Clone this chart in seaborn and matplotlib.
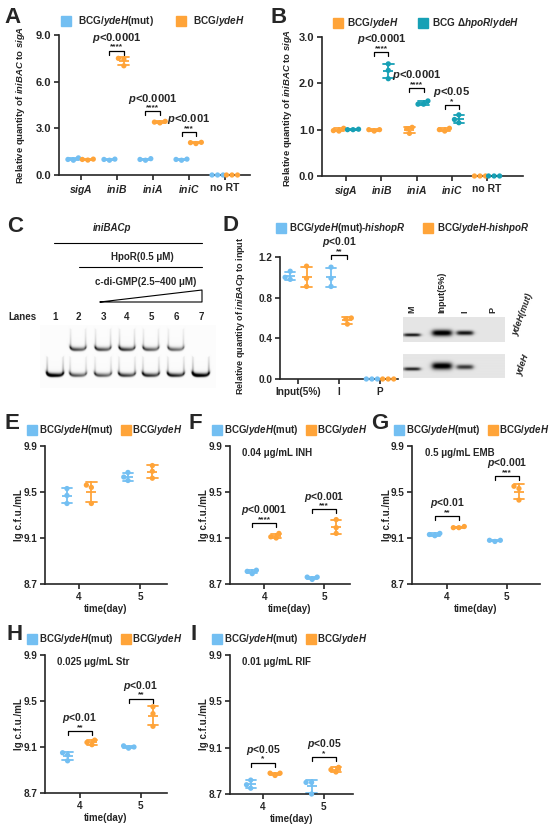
import numpy as np
import pandas as pd
import matplotlib
matplotlib.use('Agg')
import matplotlib.pyplot as plt
import seaborn as sns
from matplotlib.lines import Line2D

W, H = 550, 824
BLUE = '#73BFF2'
ORANGE = '#FFA439'
TEAL = '#17A0B5'

# ---------------- data ----------------
genes = ['sigA', 'iniB', 'iniA', 'iniC', 'no RT']
a_mut = [[0.95, 1.00, 1.10], [0.95, 1.00, 1.02], [0.95, 1.05, 1.00], [0.95, 1.00, 1.02], [0.0, 0.0, 0.0]]
a_ydeh = [[1.00, 1.02, 0.96], [7.50, 7.02, 7.45], [3.35, 3.40, 3.45], [2.02, 2.10, 2.08], [0.0, 0.0, 0.0]]
a_sig = [(1, 8.0, '****', '<0.0001'), (2, 4.1, '****', '<0.0001'), (3, 2.75, '***', '<0.001')]

b_ydeh = [[0.98, 1.03, 0.97], [1.00, 0.97, 1.00], [1.05, 0.92, 1.02], [0.97, 1.03, 1.00], [0.0, 0.0, 0.0]]
b_hpor = [[1.00, 1.00, 1.01], [2.42, 2.28, 2.10], [1.62, 1.55, 1.55], [1.15, 1.32, 1.22], [0.0, 0.0, 0.0]]
b_sig = [(1, 2.68, '****', '<0.0001'), (2, 1.9, '****', '<0.0001'), (3, 1.53, '*', '<0.05')]

chip_cats = ['Input(5%)', 'I', 'P']
d_mut = [[0.98, 1.06, 1.00], [1.10, 0.99, 0.91], [0.0, 0.0, 0.0]]
d_ydeh = [[1.11, 0.99, 0.91], [0.60, 0.59, 0.54], [0.0, 0.0, 0.0]]
d_sig = [(1, 1.22, '**', '<0.01')]

days = ['4', '5']
e_mut = [[9.53, 9.47, 9.40], [9.67, 9.60, 9.63]]
e_ydeh = [[9.56, 9.54, 9.40], [9.73, 9.68, 9.62]]
f_mut = [[8.79, 8.82, 8.81], [8.74, 8.76, 8.76]]
f_ydeh = [[9.14, 9.11, 9.10], [9.26, 9.19, 9.14]]
f_sig = [(0, 9.23, '****', '<0.0001'), (1, 9.35, '***', '<0.001')]
g_mut = [[9.12, 9.14, 9.13], [9.07, 9.08, 9.08]]
g_ydeh = [[9.19, 9.20, 9.19], [9.55, 9.53, 9.43]]
g_sig = [(0, 9.29, '**', '<0.01'), (1, 9.64, '***', '<0.001')]
h_mut = [[9.05, 9.03, 8.98], [9.09, 9.11, 9.10]]
h_ydeh = [[9.12, 9.16, 9.14], [9.45, 9.39, 9.28]]
h_sig = [(0, 9.24, '**', '<0.01'), (1, 9.52, '**', '<0.01')]
i_mut = [[8.82, 8.78, 8.75], [8.80, 8.80, 8.70]]
i_ydeh = [[8.86, 8.88, 8.88], [8.93, 8.89, 8.91]]
i_sig = [(0, 8.97, '*', '<0.05'), (1, 9.02, '*', '<0.05')]

lab_mut = 'BCG/$\\mathit{ydeH}$(mut)'
lab_ydeh = 'BCG/$\\mathit{ydeH}$'
lab_hpor = 'BCG Δ$\\mathit{hpoR}$/$\\mathit{ydeH}$'

# gel band strengths (EMSA lanes 1-7, ChIP lanes M / Input / I / P)
emsa_x = [55, 78, 103, 127, 151, 176, 201]
emsa_upper = [0.0, 0.6, 0.6, 0.65, 0.55, 0.5, 0.0]
emsa_lower = [1.0, 0.55, 0.55, 0.65, 0.7, 0.75, 1.0]
chip_x = [412, 442, 465, 493]
chip_top = [0.85, 1.0, 0.85, 0.0]
chip_bot = [0.8, 1.0, 0.7, 0.0]

# ---------------- style ----------------
sns.set_style('ticks')
plt.rcParams['font.family'] = ['Liberation Sans', 'DejaVu Sans']
plt.rcParams['font.weight'] = 'bold'
plt.rcParams['axes.labelweight'] = 'bold'
plt.rcParams['axes.linewidth'] = 1.2
plt.rcParams['mathtext.fontset'] = 'custom'
plt.rcParams['mathtext.rm'] = 'Liberation Sans:bold'
plt.rcParams['mathtext.it'] = 'Liberation Sans:italic:bold'
plt.rcParams['mathtext.bf'] = 'Liberation Sans:bold'

fig = plt.figure(figsize=(W / 100, H / 100), dpi=100)


def px_axes(x0, y0, x1, y1):
    ax = fig.add_axes([x0 / W, 1 - y1 / H, (x1 - x0) / W, (y1 - y0) / H])
    ax.px = (x0, y0, x1, y1)
    return ax


def place_ylabel(ax, xc, yc=None):
    x0, y0, x1, y1 = ax.px
    yc = (y0 + y1) / 2 if yc is None else yc
    ax.yaxis.set_label_coords((xc + 4.5 - x0) / (x1 - x0), (y1 - yc) / (y1 - y0))


def long_form(cats, groups, series):
    rows = []
    for g, vals in zip(groups, series):
        for c, reps in zip(cats, vals):
            for v in reps:
                rows.append((c, g, v))
    return pd.DataFrame(rows, columns=['cat', 'grp', 'val'])


def dot_panel(ax, cats, groups, series, colors, capsize):
    df = long_form(cats, groups, series)
    sns.swarmplot(data=df, x='cat', y='val', hue='grp', order=cats, hue_order=groups,
                  palette=colors, dodge=True, size=3.8, legend=False, ax=ax, zorder=3)
    sns.pointplot(data=df, x='cat', y='val', hue='grp', order=cats, hue_order=groups,
                  palette=colors, dodge=0.4, errorbar='sd', capsize=capsize, linestyle='none',
                  marker='_', markersize=7, markeredgewidth=1.3, linewidth=1.3,
                  err_kws={'linewidth': 1.3}, legend=False, ax=ax)
    for art in ax.lines + list(ax.collections):
        art.set_clip_on(False)
    sns.despine(ax=ax)
    ax.set_xlabel('')
    ax.set_ylabel('')


def brackets(ax, marks, fs=7.5):
    y0, y1 = ax.get_ylim()
    leg = 0.03 * (y1 - y0)
    for ci, h, stars, p in marks:
        xa, xb = ci - 0.2, ci + 0.2
        ax.plot([xa, xa, xb, xb], [h - leg, h, h, h - leg], color='black', lw=0.9, clip_on=False)
        ax.annotate(stars, (ci, h), xytext=(0, 1.5), textcoords='offset points', ha='center',
                    va='baseline', fontsize=6, annotation_clip=False)
        ax.annotate('$\\mathit{p}$' + p, (ci, h), xytext=(0, 7), textcoords='offset points',
                    ha='center', va='baseline', fontsize=fs, annotation_clip=False)


def top_legend(ax, labels, colors, x_px, y_px, colsp, pad, fs=7):
    handles = [Line2D([], [], ls='none', marker='s', markersize=6.5, color=c, label=l)
               for l, c in zip(labels, colors)]
    ax.legend(handles=handles, ncol=2, loc='center left', bbox_to_anchor=(x_px / W, 1 - y_px / H),
              bbox_transform=fig.transFigure, frameon=False, fontsize=fs, handlelength=0.8,
              handletextpad=pad, columnspacing=colsp, borderpad=0, borderaxespad=0)


italic_genes = ['$\\mathit{%s}$' % g if g != 'no RT' else g for g in genes]

# ---------------- A ----------------
axA = px_axes(59, 35, 250, 175)
dot_panel(axA, genes, ['mut', 'ydeH'], [a_mut, a_ydeh], [BLUE, ORANGE], 0.3)
axA.set_ylim(0, 9)
axA.set_xlim(-0.6, 4.7)
axA.set_yticks([0, 3, 6, 9], ['0.0', '3.0', '6.0', '9.0'])
axA.set_xticks(range(5), italic_genes)
axA.tick_params(axis='x', length=3.5, width=1.2, labelsize=7.5, pad=2)
axA.tick_params(axis='y', length=3.5, width=1.2, labelsize=8, pad=2)
axA.set_ylabel('Relative quantity of $\\mathit{iniBAC}$ to $\\mathit{sigA}$', fontsize=6.8)
place_ylabel(axA, 23, 105)
brackets(axA, a_sig, 8)
top_legend(axA, [lab_mut, lab_ydeh], [BLUE, ORANGE], 62, 21, 2.3, 0.8, 7.2)

# ---------------- B ----------------
axB = px_axes(322, 37, 523, 176)
dot_panel(axB, genes, ['ydeH', 'hpoR'], [b_ydeh, b_hpor], [ORANGE, TEAL], 0.3)
axB.set_ylim(0, 3)
axB.set_xlim(-0.68, 5.02)
axB.set_yticks([0, 1, 2, 3], ['0.0', '1.0', '2.0', '3.0'])
axB.set_xticks(range(5), italic_genes)
axB.tick_params(axis='x', length=3.5, width=1.2, labelsize=7.5, pad=2)
axB.tick_params(axis='y', length=3.5, width=1.2, labelsize=8, pad=2)
axB.set_ylabel('Relative quantity of $\\mathit{iniBAC}$ to $\\mathit{sigA}$', fontsize=6.8)
place_ylabel(axB, 290, 108)
brackets(axB, b_sig, 8)
top_legend(axB, [lab_ydeh, lab_hpor], [ORANGE, TEAL], 334, 23, 2.0, 0.5, 7.2)

# ---------------- D ----------------
axD = px_axes(280, 257, 398, 379)
dot_panel(axD, chip_cats, ['mut', 'ydeH'], [d_mut, d_ydeh], [BLUE, ORANGE], 0.25)
axD.set_ylim(0, 1.2)
axD.set_xlim(-0.45, 2.44)
axD.set_yticks([0, 0.4, 0.8, 1.2], ['0.0', '0.4', '0.8', '1.2'])
axD.set_xticks(range(3), chip_cats)
axD.tick_params(axis='x', length=3.5, width=1.2, labelsize=7.2, pad=2)
axD.tick_params(axis='y', length=3.5, width=1.2, labelsize=7.2, pad=2)
axD.set_ylabel('Relative quantity of $\\mathit{iniBAC}$p to input', fontsize=6.5)
place_ylabel(axD, 243, 316)
brackets(axD, d_sig, 7.5)
top_legend(axD, ['BCG/$\\mathit{ydeH}$(mut)-$\\mathit{hishopR}$', 'BCG/$\\mathit{ydeH}$-$\\mathit{hishpoR}$'],
           [BLUE, ORANGE], 277, 228, 1.9, 0.45)

# ---------------- E-I ----------------
cfu_panels = [
    ('E', (45, 446, 167, 584), e_mut, e_ydeh, [], None, (-0.56, 1.44)),
    ('F', (230, 446, 350, 584), f_mut, f_ydeh, f_sig, '0.04 μg/mL INH', (-0.57, 1.43)),
    ('G', (412, 446, 540, 584), g_mut, g_ydeh, g_sig, '0.5 μg/mL EMB', (-0.58, 1.55)),
    ('H', (45, 655, 167, 793), h_mut, h_ydeh, h_sig, '0.025 μg/mL Str', (-0.57, 1.43)),
    ('I', (230, 655, 353, 794), i_mut, i_ydeh, i_sig, '0.01 μg/mL RIF', (-0.54, 1.48)),
]
for name, rect, mut, ydeh, sig, note, xl in cfu_panels:
    ax = px_axes(*rect)
    dot_panel(ax, days, ['mut', 'ydeH'], [mut, ydeh], [BLUE, ORANGE], 0.17)
    ax.set_ylim(8.7, 9.9)
    ax.set_xlim(*xl)
    ax.set_yticks([8.7, 9.1, 9.5, 9.9], ['8.7', '9.1', '9.5', '9.9'])
    ax.tick_params(axis='both', length=3.5, width=1.2, labelsize=7.2, pad=2)
    ax.set_xlabel('time(day)', fontsize=7, labelpad=2)
    ax.set_ylabel('lg c.f.u./mL', fontsize=7)
    place_ylabel(ax, rect[0] - 25)
    brackets(ax, sig, 7.5)
    top_legend(ax, [lab_mut, lab_ydeh], [BLUE, ORANGE], rect[0] - 17, rect[1] - 16, 0.9, 0.3)
    if note:
        ax.text(0.1, 0.95, note, transform=ax.transAxes, fontsize=7, va='center', ha='left')

# ---------------- overlay: letters, EMSA and ChIP gels ----------------
ov = fig.add_axes([0, 0, 1, 1])
ov.set_zorder(10)
ov.patch.set_visible(False)

for letter, x, y in [('A', 4, 23), ('B', 270, 23), ('C', 7, 232), ('D', 222, 231),
                     ('E', 5, 429), ('F', 188, 429), ('G', 371, 429), ('H', 6, 640), ('I', 191, 640)]:
    ov.text(x, y, letter, fontsize=16, fontweight='bold', va='baseline', ha='left')

# EMSA annotation
ov.text(112, 228, 'iniBACp', fontsize=7, style='italic', ha='center', va='center')
ov.plot([54, 202], [243, 243], color='black', lw=0.8)
ov.text(142, 257, 'HpoR(0.5 μM)', fontsize=7, ha='center', va='center')
ov.plot([79, 202], [267, 267], color='black', lw=0.8)
ov.text(146, 282, 'c-di-GMP(2.5–400 μM)', fontsize=7, ha='center', va='center')
ov.plot([100, 202, 202, 100], [302, 290, 302, 302], color='black', lw=0.8)
ov.text(22, 317, 'Lanes', fontsize=7, ha='center', va='center')
for k, xc in enumerate(emsa_x):
    ov.text(xc, 317, str(k + 1), fontsize=7, ha='center', va='center')


def u_band(X, Y, xc, yb, hw, amp, wall_h):
    # a "smile" shaped band: dark bottom, grey side walls fading upward
    dx = (X - xc) / hw
    mask = 1.0 / (1.0 + np.exp((np.abs(dx) - 1.0) / 0.05))
    curve = yb - 2.5 * dx ** 4
    d = Y - curve
    core = np.where(d > 0, np.exp(-(d / 1.3) ** 2), np.exp(-(d / 2.6) ** 2)) * (1 - 0.25 * dx)
    above = (d < 0) & (d > -wall_h)
    wall = np.where(above, np.exp(d / (wall_h * 0.6)), 0.0) * np.exp(-((np.abs(dx) - 0.9) / 0.12) ** 2)
    haze = np.where(above, np.exp(d / 2.5), 0.0) * 0.15
    return amp * mask * (core + 0.55 * wall + haze)


gx = np.linspace(40, 216, 528)
gy = np.linspace(325, 388, 189)
GX, GY = np.meshgrid(gx, gy)
gel = np.full(GX.shape, 0.015)
for xc, up, lo in zip(emsa_x, emsa_upper, emsa_lower):
    if up > 0:
        gel += u_band(GX, GY, xc, 350, 8.5, up, 20)
    gel += u_band(GX, GY, xc, 376, 9, lo, 18)
ov.imshow(np.clip(gel, 0, 1), cmap='gray_r', vmin=0, vmax=1, extent=(40, 216, 388, 325),
          origin='upper', interpolation='bilinear', aspect='auto')


def flat_band(X, Y, xc, yc, hw, sig, amp):
    dx = (X - xc) / hw
    mask = 1.0 / (1.0 + np.exp((np.abs(dx) - 1.0) / 0.15))
    return amp * mask * np.exp(-((Y - yc) / sig) ** 2)


for (y0, y1, amps, ycs, sigs) in [(317, 342, chip_top, [335, 333, 333, 333], [1.6, 3.2, 2.3, 2]),
                                  (354, 378, chip_bot, [369, 366, 367, 367], [1.7, 3.6, 2.4, 2])]:
    cx = np.linspace(403, 505, 306)
    cy = np.linspace(y0, y1, 75)
    CX, CY = np.meshgrid(cx, cy)
    img = np.full(CX.shape, 0.1)
    for xc, amp, yc, sg, hw in zip(chip_x, amps, ycs, sigs, [8, 9.5, 8, 8]):
        if amp > 0:
            img += flat_band(CX, CY, xc, yc, hw, sg, amp)
    ov.imshow(np.clip(img, 0, 1), cmap='gray_r', vmin=0, vmax=1, extent=(403, 505, y1, y0),
              origin='upper', interpolation='bilinear', aspect='auto')

for lab, xc in zip(['M', 'Input(5%)', 'I', 'P'], chip_x):
    ov.text(xc, 313, lab, fontsize=6.5, rotation=90, ha='center', va='bottom')
ov.text(523, 315, 'ydeH(mut)', fontsize=6.5, style='italic', rotation=70, ha='center', va='center')
ov.text(523, 365, 'ydeH', fontsize=6.5, style='italic', rotation=70, ha='center', va='center')

ov.set_xlim(0, W)
ov.set_ylim(H, 0)
ov.axis('off')

fig.savefig('out.png', dpi=100)
